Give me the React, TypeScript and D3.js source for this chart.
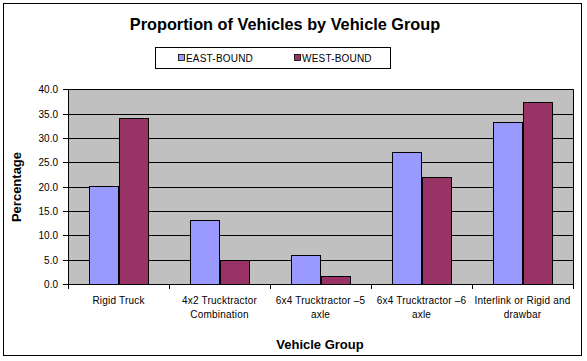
import React, { useEffect, useRef } from "react";
import * as d3 from "d3";

const categories: string[][] = [
  ["Rigid Truck"],
  ["4x2 Trucktractor", "Combination"],
  ["6x4 Trucktractor \u20135", "axle"],
  ["6x4 Trucktractor \u20136", "axle"],
  ["Interlink or Rigid and", "drawbar"],
];
const seriesNames = ["EAST-BOUND", "WEST-BOUND"];
const eastBound = [20.2, 13.1, 5.9, 27.2, 33.2];
const westBound = [34.0, 4.9, 1.6, 21.9, 37.3];
const yTicks = [0, 5, 10, 15, 20, 25, 30, 35, 40];
const colors = ["#9999FF", "#993366"];

const W = 587;
const H = 361;
const FONT = "'Liberation Sans', Arial, sans-serif";

export default function App() {
  const ref = useRef<SVGSVGElement>(null);

  useEffect(() => {
    document.body.style.margin = "0";
    const svg = d3.select(ref.current);
    svg.selectAll("*").remove();

    const left = 68, right = 573, top = 89.2, bottom = 284;
    const x = d3.scaleBand<number>().domain(d3.range(categories.length)).range([left, right]).padding(0);
    const y = d3.scaleLinear().domain([0, 40]).range([bottom, top]);

    svg.append("rect").attr("x", 0).attr("y", 0).attr("width", W).attr("height", H).attr("fill", "#fff");
    svg.append("rect").attr("x", 3.5).attr("y", 3.5).attr("width", 578).attr("height", 352)
      .attr("fill", "#fff").attr("stroke", "#000").attr("stroke-width", 1);

    // title
    svg.append("text").attr("x", 285).attr("y", 30).attr("text-anchor", "middle")
      .attr("font-family", FONT).attr("font-weight", "bold").attr("font-size", 16.3)
      .text("Proportion of Vehicles by Vehicle Group");

    // legend
    const lg = svg.append("g");
    lg.append("rect").attr("x", 155.5).attr("y", 47.5).attr("width", 235).attr("height", 21)
      .attr("fill", "#fff").attr("stroke", "#000");
    const legX = [178, 294];
    seriesNames.forEach((n, i) => {
      lg.append("rect").attr("x", legX[i] + 0.5).attr("y", 54.5).attr("width", 6).attr("height", 6)
        .attr("fill", colors[i]).attr("stroke", "#000").attr("stroke-width", 0.8);
      lg.append("text").attr("x", legX[i] + 8).attr("y", 61.5)
        .attr("font-family", FONT).attr("font-size", 10).attr("letter-spacing", 0.2).text(n);
    });

    // plot area
    svg.append("rect").attr("x", left).attr("y", top).attr("width", right - left).attr("height", bottom - top)
      .attr("fill", "#C0C0C0");
    yTicks.forEach((t) => {
      if (t === 0) return;
      svg.append("line").attr("x1", left).attr("x2", right)
        .attr("y1", Math.round(y(t)) + 0.5).attr("y2", Math.round(y(t)) + 0.5)
        .attr("stroke", "#000").attr("stroke-width", 1);
    });
    svg.append("line").attr("x1", right + 0.5).attr("x2", right + 0.5).attr("y1", top).attr("y2", bottom)
      .attr("stroke", "#000");

    // bars
    const bw = x.bandwidth();
    const barW = bw * 0.292;
    const gap = bw * 0.208;
    [eastBound, westBound].forEach((vals, si) => {
      svg.append("g").selectAll("rect").data(vals).join("rect")
        .attr("x", (_d, i) => Math.round(x(i)! + gap + si * barW) + 0.5)
        .attr("y", (d) => Math.round(y(d)) + 0.5)
        .attr("width", Math.round(barW))
        .attr("height", (d) => Math.round(bottom) - Math.round(y(d)))
        .attr("fill", colors[si]).attr("stroke", "#000").attr("stroke-width", 1);
    });

    // axes
    svg.append("line").attr("x1", left + 0.5).attr("x2", left + 0.5).attr("y1", top).attr("y2", bottom + 0.5)
      .attr("stroke", "#000");
    svg.append("line").attr("x1", left).attr("x2", right + 1).attr("y1", bottom + 0.5).attr("y2", bottom + 0.5)
      .attr("stroke", "#000");
    yTicks.forEach((t) => {
      const yy = Math.round(y(t)) + 0.5;
      svg.append("line").attr("x1", left - 5).attr("x2", left).attr("y1", yy).attr("y2", yy).attr("stroke", "#000");
      svg.append("text").attr("x", 58).attr("y", yy + 3.5).attr("text-anchor", "end")
        .attr("font-family", FONT).attr("font-size", 10).text(t.toFixed(1));
    });
    const bounds = d3.range(categories.length + 1).map((i) => left + i * bw);
    bounds.forEach((bx) => {
      const xx = Math.round(bx) + 0.5;
      svg.append("line").attr("x1", xx).attr("x2", xx).attr("y1", bottom).attr("y2", bottom + 5).attr("stroke", "#000");
    });
    categories.forEach((lines, i) => {
      const cx = x(i)! + bw / 2;
      lines.forEach((ln, j) => {
        svg.append("text").attr("x", cx).attr("y", 304 + j * 14).attr("text-anchor", "middle")
          .attr("font-family", FONT).attr("font-size", 10).attr("letter-spacing", 0.2).text(ln);
      });
    });

    // axis titles
    svg.append("text").attr("x", 320).attr("y", 349).attr("text-anchor", "middle")
      .attr("font-family", FONT).attr("font-weight", "bold").attr("font-size", 13).text("Vehicle Group");
    svg.append("text").attr("transform", "translate(21,187) rotate(-90)").attr("text-anchor", "middle")
      .attr("font-family", FONT).attr("font-weight", "bold").attr("font-size", 13).text("Percentage");
  }, []);

  return <svg ref={ref} width={W} height={H} style={{ display: "block" }} />;
}
